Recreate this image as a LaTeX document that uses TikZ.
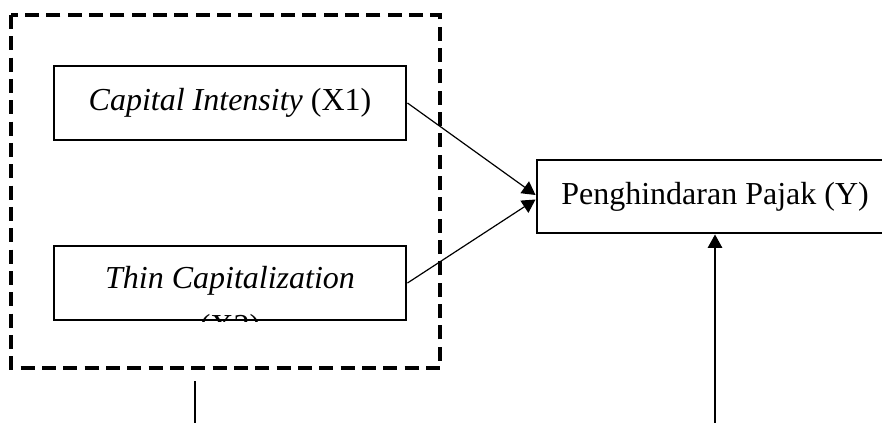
\documentclass[tikz,border=0pt]{standalone}
\usepackage{fontspec}
\setmainfont{Liberation Serif}
\usetikzlibrary{calc}
\usetikzlibrary{arrows.meta}

\tikzset{
  varbox/.style={draw, line width=1.1pt, minimum width=352*0.375pt, minimum height=74*0.375pt, inner sep=0pt},
  link/.style={line width=0.45pt, -{Triangle[length=5pt,width=5.4pt]}}
}

\begin{document}
\begin{tikzpicture}[x=0.375pt, y=-0.375pt, font=\fontsize{12pt}{14pt}\selectfont]
\useasboundingbox (0,0) rectangle (882,423);
\clip (0,0) rectangle (882,423);
% dashed frame round X1 and X2
\draw[line width=1.15pt, dash pattern=on 5.2pt off 2.8pt] (11,15) rectangle (440,368);
\node[varbox] (x1) at (230,103) {\textit{Capital Intensity} (X1)};
\node[varbox] (x2) at (230,283) {};
\begin{scope}
  \clip (x2.south west) rectangle (x2.north east);
  \node[anchor=base] (x2t) at (230,288) {\textit{Thin Capitalization}};
  \node[anchor=base] (x2n) at (230,336) {(X2)};
\end{scope}
\node[varbox] at (230,283) {};
\node[draw, line width=1.1pt, minimum width=356*0.375pt, minimum height=73*0.375pt] (y) at (715,196.5) {Penghindaran Pajak (Y)};
\draw[link] (x1.east) -- ($(y.west)+(0,-1.5)$);
\draw[link] (x2.east) -- ($(y.west)+(0,3)$);
% lines from below
\coordinate (lowa) at (195,381);
\coordinate (lowb) at (195,430);
\coordinate (lowc) at (715,430);
\draw[line width=0.45pt] (lowa) -- (lowb);
\draw[link] (lowc) -- (y.south);
\end{tikzpicture}
\end{document}
